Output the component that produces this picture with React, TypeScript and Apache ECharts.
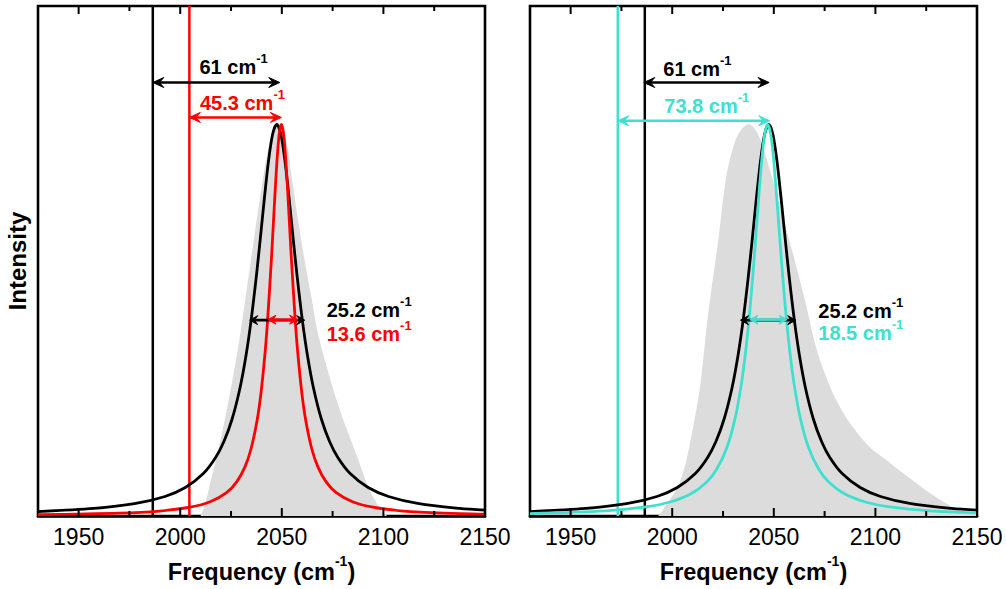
import React, { useEffect, useRef } from "react";
import * as echarts from "echarts";

const FONT = '"Liberation Sans", Arial, Helvetica, sans-serif';

// axis ticks (cm^-1)
const xMin = 1930;
const xMax = 2150;
const majorTicks = [1950, 2000, 2050, 2100, 2150];
const minorTicks = [1975, 2025, 2075, 2125];

// black Lorentzian (both panels), [frequency, intensity]
const blackCurve: [number, number][] = [
  [1930, 0.0087], [1957.5, 0.0148], [1977.5, 0.0241], [1992.5, 0.0383], [2002.5, 0.0558],
  [2011.5, 0.0838], [2017.5, 0.1152], [2021.5, 0.1461], [2025.5, 0.1897], [2029.5, 0.2526],
  [2032.5, 0.3177], [2034.9, 0.384], [2037.5, 0.4712], [2039.5, 0.5474], [2041.5, 0.626],
  [2043.5, 0.6977], [2045.5, 0.7491], [2047.5, 0.768], [2049.5, 0.7491], [2051.5, 0.6977],
  [2053.5, 0.626], [2055.5, 0.5474], [2057.5, 0.4712], [2060.1, 0.384], [2062.5, 0.3177],
  [2065.5, 0.2526], [2069.5, 0.1897], [2073.5, 0.1461], [2077.5, 0.1152], [2083.5, 0.0838],
  [2092.5, 0.0558], [2102.5, 0.0383], [2117.5, 0.0241], [2137.5, 0.0148], [2150, 0.0114],
];

// red Lorentzian (left panel)
const redCurve: [number, number][] = [
  [1930, 0.0025], [1969.8, 0.0055], [1989.8, 0.0097], [2004.8, 0.0172], [2014.8, 0.0279],
  [2022.8, 0.0458], [2027.8, 0.067], [2031.8, 0.0959], [2034.8, 0.1309], [2037.8, 0.1867],
  [2039.8, 0.2428], [2041.8, 0.3221], [2043.0, 0.384], [2044.8, 0.4985], [2045.8, 0.5706],
  [2046.8, 0.6429], [2047.8, 0.7069], [2048.8, 0.7517], [2049.8, 0.768], [2050.8, 0.7517],
  [2051.8, 0.7069], [2052.8, 0.6429], [2053.8, 0.5706], [2054.8, 0.4985], [2056.6, 0.384],
  [2057.8, 0.3221], [2059.8, 0.2428], [2061.8, 0.1867], [2064.8, 0.1309], [2067.8, 0.0959],
  [2071.8, 0.067], [2076.8, 0.0458], [2084.8, 0.0279], [2094.8, 0.0172], [2109.8, 0.0097],
  [2129.8, 0.0055], [2150, 0.0035],
];

// turquoise Lorentzian (right panel)
const turquoiseCurve: [number, number][] = [
  [1930, 0.0048], [1967, 0.0101], [1987, 0.0178], [1999, 0.0275], [2009, 0.043],
  [2017, 0.0667], [2022, 0.0925], [2027, 0.1353], [2031, 0.1924], [2034, 0.2581],
  [2036, 0.3181], [2037.75, 0.384], [2039.5, 0.4634], [2041, 0.5406], [2042.5, 0.621],
  [2044, 0.6949], [2045.5, 0.7483], [2047, 0.768], [2048.5, 0.7483], [2050, 0.6949],
  [2051.5, 0.621], [2053, 0.5406], [2054.5, 0.4634], [2056.25, 0.384], [2058, 0.3181],
  [2060, 0.2581], [2063, 0.1924], [2067, 0.1353], [2072, 0.0925], [2077, 0.0667],
  [2085, 0.043], [2095, 0.0275], [2107, 0.0178], [2127, 0.0101], [2150, 0.0062],
];

// grey measured band shapes
const grayLeft: [number, number][] = [
  [2010, 0], [2012, 0.02], [2014.5, 0.06], [2018.5, 0.125], [2023.2, 0.214],
  [2028.5, 0.33], [2031.5, 0.41], [2035.8, 0.53], [2040.5, 0.655], [2044, 0.73],
  [2048, 0.772], [2052.3, 0.733], [2054.7, 0.668], [2059.6, 0.539], [2064.5, 0.43],
  [2068.6, 0.344], [2078, 0.214], [2087, 0.117], [2093, 0.053], [2099, 0.01], [2102, 0],
];
const grayRight: [number, number][] = [
  [1993, 0], [1995, 0.01], [1998.8, 0.0325], [2002.9, 0.058], [2007, 0.11],
  [2010.3, 0.175], [2013.2, 0.24], [2015.2, 0.305], [2016.9, 0.37], [2018.8, 0.43],
  [2022.6, 0.538], [2026.7, 0.668], [2030.8, 0.733], [2034, 0.758], [2037.8, 0.768],
  [2041, 0.757], [2043.9, 0.733], [2048.8, 0.668], [2053.5, 0.6], [2057.8, 0.538],
  [2062, 0.475], [2065.5, 0.42], [2070.5, 0.335], [2075.5, 0.275], [2080, 0.233],
  [2087, 0.185], [2097, 0.136], [2105.4, 0.11], [2115, 0.08], [2129, 0.039],
  [2140, 0.013], [2150, 0.003],
];

// vertical reference frequencies
const blackRef = 1986.5;
const redRef = 2004.5;
const turquoiseRef = 1973.2;

// arrows: [from, to, intensity]
const leftBlackShift = [[1986.5, 2049.0, 0.85]];
const leftRedShift = [[2004.5, 2049.8, 0.7815]];
const leftBlackWidth = [[2034.2, 2061.3, 0.384]];
const leftRedWidth = [[2043.2, 2057.8, 0.385]];
const rightBlackShift = [[1986.0, 2047.7, 0.85]];
const rightTurqShift = [[1973.2, 2048.0, 0.775]];
const rightBlackWidth = [[2033.6, 2060.8, 0.384]];
const rightTurqWidth = [[2038.2, 2056.5, 0.385]];

const BLACK = "#000000";
const RED = "#ff0000";
const TURQ = "#40e0d0";
const GRAY = "#dcdcdc";

// plot height in px, used to turn tick lengths into axis fractions
const PLOT_H = 514;

function arrowRenderer(headLen: number, headHalf: number, lw: number) {
  return (_params: any, api: any) => {
    const a = api.coord([api.value(0), api.value(2)]);
    const b = api.coord([api.value(1), api.value(2)]);
    const color = api.visual("color");
    const y = a[1];
    const x1 = a[0];
    const x2 = b[0];
    return {
      type: "group",
      children: [
        {
          type: "line",
          shape: { x1: x1 + headLen * 0.5, y1: y, x2: x2 - headLen * 0.5, y2: y },
          style: { stroke: color, lineWidth: lw },
        },
        {
          type: "polygon",
          shape: {
            points: [[x1, y], [x1 + headLen, y - headHalf], [x1 + headLen * 0.6, y], [x1 + headLen, y + headHalf]],
          },
          style: { fill: color, stroke: color, lineWidth: 1 },
        },
        {
          type: "polygon",
          shape: {
            points: [[x2, y], [x2 - headLen, y - headHalf], [x2 - headLen * 0.6, y], [x2 - headLen, y + headHalf]],
          },
          style: { fill: color, stroke: color, lineWidth: 1 },
        },
      ],
    };
  };
}

function curve(data: [number, number][], color: string, xi: number, yi: number, z: number) {
  return {
    type: "line",
    data,
    xAxisIndex: xi,
    yAxisIndex: yi,
    symbol: "none",
    smooth: 0.3,
    lineStyle: { color, width: 2.8 },
    z,
    silent: true,
  };
}

function vline(x: number, color: string, xi: number, yi: number, z: number) {
  return {
    type: "line",
    data: [[x, 0], [x, 1]],
    xAxisIndex: xi,
    yAxisIndex: yi,
    symbol: "none",
    lineStyle: { color, width: 2.5 },
    z,
    silent: true,
  };
}

function area(data: [number, number][], xi: number, yi: number) {
  return {
    type: "line",
    data,
    xAxisIndex: xi,
    yAxisIndex: yi,
    symbol: "none",
    smooth: 0.3,
    lineStyle: { width: 0 },
    areaStyle: { color: GRAY, opacity: 1 },
    z: 1,
    silent: true,
  };
}

function arrows(data: number[][], color: string, xi: number, yi: number, big: boolean, z: number) {
  return {
    type: "custom",
    coordinateSystem: "cartesian2d",
    xAxisIndex: xi,
    yAxisIndex: yi,
    data,
    encode: { x: [0, 1], y: 2 },
    itemStyle: { color },
    renderItem: big ? arrowRenderer(11, 5, 2.6) : arrowRenderer(8, 4.5, 2.6),
    clip: false,
    silent: true,
    z,
  };
}

// inward tick marks (bottom and top) as broken line segments
function tickLines(values: number[], lenPx: number, xi: number, yi: number) {
  const f = lenPx / PLOT_H;
  const data: any[] = [];
  for (const v of values) {
    data.push([v, 0], [v, f], [v, "-"], [v, 1], [v, 1 - f], [v, "-"]);
  }
  return {
    type: "line",
    data,
    xAxisIndex: xi,
    yAxisIndex: yi,
    symbol: "none",
    connectNulls: false,
    clip: false,
    lineStyle: { color: "#000", width: 2 },
    z: 12,
    silent: true,
  };
}

function xAxisFor(gridIndex: number) {
  return {
    gridIndex,
    type: "value",
    position: "bottom",
    min: xMin,
    max: xMax,
    axisLine: { show: true, onZero: false, lineStyle: { color: "#000", width: 2.6 } },
    splitLine: { show: false },
    axisTick: { show: false },
    axisLabel: {
      show: true,
      customValues: majorTicks,
      formatter: (v: number) => String(v),
      fontSize: 23,
      color: "#000",
      fontFamily: FONT,
      margin: 9,
      showMinLabel: true,
      showMaxLabel: true,
    },
    name: "{a|Frequency (cm}{s|-1}{a|)}",
    nameLocation: "middle",
    nameGap: 38,
    nameTextStyle: {
      color: "#000",
      fontFamily: FONT,
      fontSize: 23.5,
      fontWeight: "bold",
      rich: {
        a: { fontSize: 23.5, fontWeight: "bold", fontFamily: FONT, color: "#000", lineHeight: 23.5, verticalAlign: "bottom" },
        s: { fontSize: 14, fontWeight: "bold", fontFamily: FONT, color: "#000", lineHeight: 30, verticalAlign: "top" },
      },
    },
  };
}

function label(text: string, color: string, x: number, baseline: number) {
  return {
    type: "text",
    x,
    y: baseline - 21.9,
    z: 50,
    style: {
      text: `{a|${text}}{s|-1}`,
      align: "left",
      verticalAlign: "top",
      fill: color,
      rich: {
        a: { fontSize: 20, fontWeight: "bold", fontFamily: FONT, fill: color, lineHeight: 20, verticalAlign: "bottom" },
        s: { fontSize: 13, fontWeight: "bold", fontFamily: FONT, fill: color, lineHeight: 25, verticalAlign: "top" },
      },
    },
  };
}

const option: any = {
  animation: false,
  backgroundColor: "#ffffff",
  grid: [
    { left: 38, top: 6, width: 447, height: PLOT_H, show: true, borderColor: "#000", borderWidth: 2.6, backgroundColor: "transparent" },
    { left: 530, top: 6, width: 447, height: PLOT_H, show: true, borderColor: "#000", borderWidth: 2.6, backgroundColor: "transparent" },
  ],
  xAxis: [xAxisFor(0), xAxisFor(1)],
  yAxis: [
    {
      gridIndex: 0,
      type: "value",
      min: 0,
      max: 1,
      axisLine: { show: false },
      axisTick: { show: false },
      axisLabel: { show: false },
      splitLine: { show: false },
      name: "Intensity",
      nameLocation: "middle",
      nameGap: 9,
      nameTextStyle: { fontSize: 24, fontWeight: "bold", fontFamily: FONT, color: "#000" },
    },
    {
      gridIndex: 1,
      type: "value",
      min: 0,
      max: 1,
      axisLine: { show: false },
      axisTick: { show: false },
      axisLabel: { show: false },
      splitLine: { show: false },
    },
  ],
  series: [
    area(grayLeft, 0, 0),
    vline(blackRef, BLACK, 0, 0, 3),
    vline(redRef, RED, 0, 0, 4),
    curve(blackCurve, BLACK, 0, 0, 5),
    curve(redCurve, RED, 0, 0, 6),
    arrows(leftBlackShift, BLACK, 0, 0, true, 7),
    arrows(leftRedShift, RED, 0, 0, true, 7),
    arrows(leftBlackWidth, BLACK, 0, 0, false, 8),
    arrows(leftRedWidth, RED, 0, 0, false, 9),
    tickLines(majorTicks, 8, 0, 0),
    tickLines(minorTicks, 5, 0, 0),

    area(grayRight, 1, 1),
    vline(turquoiseRef, TURQ, 1, 1, 3),
    vline(blackRef, BLACK, 1, 1, 4),
    curve(blackCurve, BLACK, 1, 1, 5),
    curve(turquoiseCurve, TURQ, 1, 1, 6),
    arrows(rightBlackShift, BLACK, 1, 1, true, 7),
    arrows(rightTurqShift, TURQ, 1, 1, true, 7),
    arrows(rightBlackWidth, BLACK, 1, 1, false, 8),
    arrows(rightTurqWidth, TURQ, 1, 1, false, 9),
    tickLines(majorTicks, 8, 1, 1),
    tickLines(minorTicks, 5, 1, 1),
  ],
  graphic: [
    label("61 cm", BLACK, 199.5, 74),
    label("45.3 cm", RED, 200, 109.5),
    label("25.2 cm", BLACK, 326.7, 317.3),
    label("13.6 cm", RED, 326.7, 340.7),
    label("61 cm", BLACK, 663.3, 76),
    label("73.8 cm", TURQ, 664.3, 112.7),
    label("25.2 cm", BLACK, 818.3, 318),
    label("18.5 cm", TURQ, 818.3, 339.5),
  ],
};

export default function App() {
  const ref = useRef<HTMLDivElement>(null);
  useEffect(() => {
    if (!ref.current) return;
    const chart = echarts.init(ref.current, null, { renderer: "svg" });
    chart.setOption(option);
    return () => chart.dispose();
  }, []);
  return (
    <div
      ref={ref}
      style={{ position: "absolute", left: 0, top: 0, width: 1006, height: 589, background: "#fff" }}
    />
  );
}
